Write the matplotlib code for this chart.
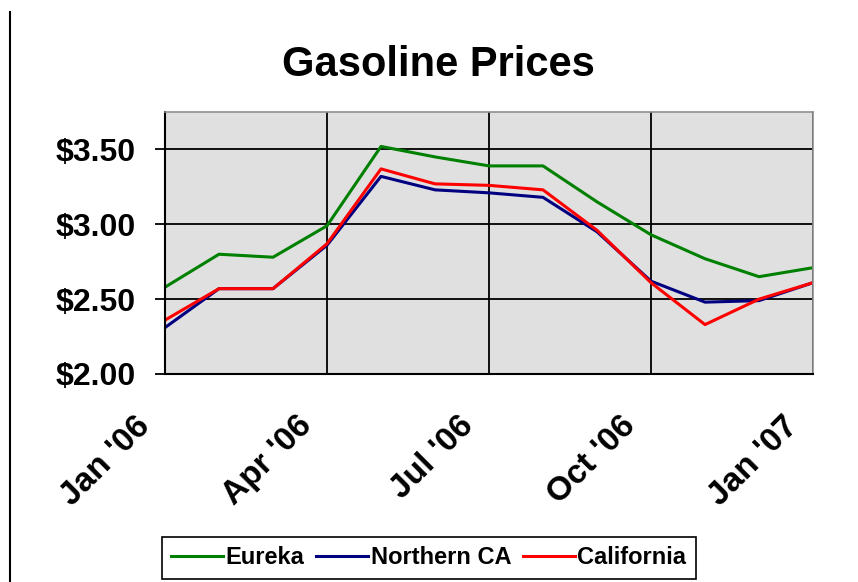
import matplotlib.pyplot as plt
import matplotlib.transforms as mtransforms
from matplotlib.lines import Line2D
import numpy as np

plt.rcParams['font.family'] = ['Liberation Sans', 'DejaVu Sans']

months = np.arange(13)  # Jan '06 .. Jan '07
tick_pos = [0, 3, 6, 9, 12]
tick_labels = ["Jan '06", "Apr '06", "Jul '06", "Oct '06", "Jan '07"]

eureka = [2.58, 2.80, 2.78, 2.99, 3.52, 3.45, 3.39, 3.39, 3.15, 2.93, 2.77, 2.65, 2.71]
northern_ca = [2.31, 2.57, 2.57, 2.86, 3.32, 3.23, 3.21, 3.18, 2.95, 2.62, 2.48, 2.49, 2.61]
california = [2.36, 2.57, 2.57, 2.87, 3.37, 3.27, 3.26, 3.23, 2.96, 2.61, 2.33, 2.50, 2.61]

fig = plt.figure(figsize=(8.58, 5.82), dpi=100)
ax = fig.add_axes([165/858, 1 - 374/582, 648/858, 262/582])
ax.set_facecolor('#e0e0e0')

ax.plot(months, eureka, color='#008000', lw=2.2, label='Eureka')
ax.plot(months, northern_ca, color='#000080', lw=2.2, label='Northern CA')
ax.plot(months, california, color='#ff0000', lw=2.2, label='California')

ax.set_xlim(0, 12)
ax.set_ylim(2.0, 3.75)
ax.set_yticks([2.0, 2.5, 3.0, 3.5])
ax.set_yticklabels(['$2.00', '$2.50', '$3.00', '$3.50'], fontsize=23, fontweight='bold')
ax.set_xticks(tick_pos)
ax.set_xticklabels(tick_labels, fontsize=24, fontweight='bold', rotation=45,
                   ha='right', va='center', rotation_mode='anchor')
ax.tick_params(axis='y', length=7, width=1.3, color='black', pad=14)
ax.tick_params(axis='x', length=0, pad=34)
# nudge the rotated labels left like the original
shift = mtransforms.ScaledTranslation(-20/100, 0, fig.dpi_scale_trans)
for lab in ax.get_xticklabels():
    lab.set_transform(lab.get_transform() + shift)
ax.grid(True, color='black', lw=1.3)
ax.set_axisbelow(True)

for s in ['left', 'bottom']:
    ax.spines[s].set_color('black')
    ax.spines[s].set_linewidth(1.5)
for s in ['top', 'right']:
    ax.spines[s].set_color('#909090')
    ax.spines[s].set_linewidth(1.2)

fig.text(438/858, 1 - 65/582, 'Gasoline Prices', fontsize=30, fontweight='bold',
         ha='center', va='center')

leg = fig.legend(loc='upper left', bbox_to_anchor=(162/858, 1 - 537/582),
                 bbox_transform=fig.transFigure, ncol=3,
                 prop={'weight': 'bold', 'size': 17}, frameon=True, fancybox=False,
                 edgecolor='black', framealpha=1, handlelength=2.2, handletextpad=0.1,
                 columnspacing=0.5, borderpad=0.4, borderaxespad=0)
leg.get_frame().set_linewidth(1.2)

fig.add_artist(Line2D([10/858, 10/858], [0, 1 - 12/582], color='black', lw=1.5))

fig.savefig('out.png', dpi=100)
